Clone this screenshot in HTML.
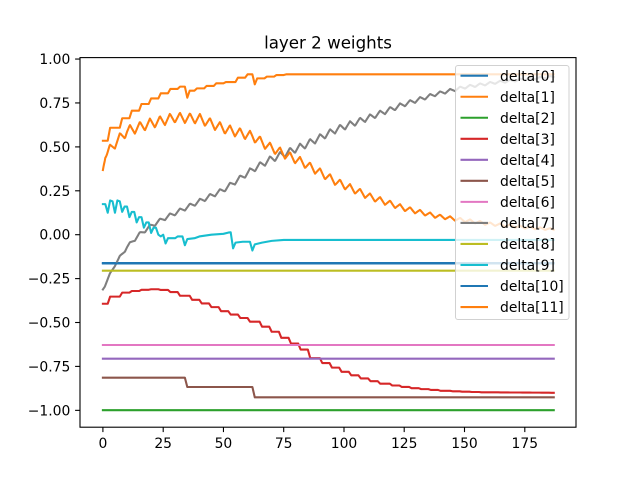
<!DOCTYPE html>
<html><head><meta charset="utf-8">
<style>html,body{margin:0;padding:0;background:#fff;}svg{display:block;}</style>
</head>
<body>
<svg id="c" width="640" height="480" viewBox="0 0 640 480" xmlns="http://www.w3.org/2000/svg" font-family="'DejaVu Sans', 'Liberation Sans', sans-serif">
<rect width="640" height="480" fill="#fff"/>
<g id="lines" fill="none" stroke-width="2.08" stroke-linejoin="round" stroke-linecap="square"></g>
<rect x="80" y="57.6" width="496" height="369.6" fill="none" stroke="#000" stroke-width="1.1"/>
<g stroke="#000" stroke-width="1.1">
<line x1="102.9" y1="427.2" x2="102.9" y2="432.1"/>
<line x1="163.2" y1="427.2" x2="163.2" y2="432.1"/>
<line x1="223.45" y1="427.2" x2="223.45" y2="432.1"/>
<line x1="283.7" y1="427.2" x2="283.7" y2="432.1"/>
<line x1="344" y1="427.2" x2="344" y2="432.1"/>
<line x1="404.2" y1="427.2" x2="404.2" y2="432.1"/>
<line x1="464.5" y1="427.2" x2="464.5" y2="432.1"/>
<line x1="524.8" y1="427.2" x2="524.8" y2="432.1"/>
<line x1="75.1" y1="59.05" x2="80" y2="59.05"/>
<line x1="75.1" y1="102.94" x2="80" y2="102.94"/>
<line x1="75.1" y1="146.9" x2="80" y2="146.9"/>
<line x1="75.1" y1="190.8" x2="80" y2="190.8"/>
<line x1="75.1" y1="234.7" x2="80" y2="234.7"/>
<line x1="75.1" y1="278.6" x2="80" y2="278.6"/>
<line x1="75.1" y1="322.5" x2="80" y2="322.5"/>
<line x1="75.1" y1="366.4" x2="80" y2="366.4"/>
<line x1="75.1" y1="410.35" x2="80" y2="410.35"/>
</g>
<g font-size="13.9" fill="#000" text-anchor="middle">
<text x="102.9" y="448">0</text>
<text x="163.2" y="448">25</text>
<text x="223.45" y="448">50</text>
<text x="283.7" y="448">75</text>
<text x="344" y="448">100</text>
<text x="404.2" y="448">125</text>
<text x="464.5" y="448">150</text>
<text x="524.8" y="448">175</text>
</g>
<g font-size="13.9" fill="#000" text-anchor="end">
<text x="70.3" y="64.1">1.00</text>
<text x="70.3" y="108">0.75</text>
<text x="70.3" y="151.9">0.50</text>
<text x="70.3" y="195.8">0.25</text>
<text x="70.3" y="239.7">0.00</text>
<text x="70.3" y="283.6">−0.25</text>
<text x="70.3" y="327.5">−0.50</text>
<text x="70.3" y="371.4">−0.75</text>
<text x="70.3" y="415.4">−1.00</text>
</g>
<text x="328" y="48.5" font-size="16.67" text-anchor="middle" fill="#000">layer 2 weights</text>
<g id="legend">
<rect x="455.5" y="65.5" width="113.5" height="254" rx="2.5" fill="#fff" fill-opacity="0.8" stroke="#cccccc" stroke-opacity="0.9" stroke-width="1"/>
<g id="leg" font-size="13.9" fill="#000"></g>
</g>
</svg>
<script>
(function(){
const X=v=>102.9+2.411*v, Y=v=>234.7-175.65*v;
function lerp(pts,x){ if(x<=pts[0][0]) return pts[0][1]; for(let i=1;i<pts.length;i++){ if(x<=pts[i][0]){const a=pts[i-1],b=pts[i]; return a[1]+(b[1]-a[1])*(x-a[0])/(b[0]-a[0]);}} return pts[pts.length-1][1]; }
function stepv(pts,x){ let v=pts[0][1]; for(const p of pts){ if(p[0]<=x) v=p[1]; } return v; }
const N=187, P=4.15, O=2.9;
function frac(x){ const t=(x-O)/P+10; return t-Math.floor(t); }
function tri(x){ const p=frac(x); return Math.abs(2*p-1)*2-1; }
function stepStart(x){ const k=Math.floor((x-O)/P); return O+P*k; }
function mk(f,dx){dx=dx||1;let a=[];for(let x=0;x<=N+1e-9;x+=dx)a.push(X(x).toFixed(2)+','+Y(f(x)).toFixed(2));return a.join(' ');}
function mkPts(pts){return pts.map(p=>X(p[0]).toFixed(2)+','+Y(p[1]).toFixed(2)).join(' ');}
const colors=['#1f77b4','#ff7f0e','#2ca02c','#d62728','#9467bd','#8c564b','#e377c2','#7f7f7f','#bcbd22','#17becf','#1f77b4','#ff7f0e'];
const S=[];
S[0]=mk(x=>-0.161);
const o1=[[0,0.535],[3,0.609],[7.5,0.663],[11.7,0.706],[15.5,0.744],[19.6,0.776],[23.7,0.805],[27.8,0.83],[31.9,0.843],[35,0.78],[36,0.82],[39,0.833],[43,0.847],[47,0.862],[51,0.869],[55.4,0.894],[59.5,0.913],[63,0.856],[64,0.89],[68,0.9],[72,0.909],[76,0.913]];
S[1]=mk(x=>stepv(o1,x));
S[2]=mk(x=>-0.999);
const red=[[0,-0.393],[3,-0.36],[6,-0.335],[10,-0.325],[15,-0.315],[20,-0.31],[25,-0.315],[30,-0.33],[35,-0.36],[40,-0.385],[45,-0.41],[50,-0.438],[56,-0.465],[62,-0.495],[70,-0.55],[76,-0.6],[82,-0.645],[87,-0.704],[94,-0.75],[101,-0.79],[108,-0.82],[115,-0.846],[122,-0.863],[129,-0.875],[142,-0.89],[156,-0.897],[187,-0.9]];
S[3]=mk(x=>lerp(red,Math.max(0,stepStart(x)+1)));
S[4]=mk(x=>-0.706);
S[5]=mkPts([[0,-0.814],[34,-0.814],[35,-0.867],[62,-0.867],[63,-0.926],[187,-0.926]]);
S[6]=mk(x=>-0.628);
const gT=[[0,-0.31],[5,-0.17],[10,-0.07],[15,0.0],[20,0.05],[25,0.09],[37,0.17],[50,0.255],[62,0.37],[69,0.425],[83,0.505],[97,0.60],[111,0.67],[125,0.743],[138,0.80],[150,0.84],[162,0.865],[175,0.885],[187,0.9]];
const gA=[[0,0.008],[20,0.012],[50,0.014],[75,0.021],[100,0.019],[140,0.01],[187,0.005]];
S[7]=mk(x=>lerp(gT,x)+lerp(gA,x)*tri(x),0.25);
S[8]=mk(x=>-0.205);
const cy=[[0,0.174],[1,0.174],[2,0.125],[3,0.195],[4,0.19],[5,0.125],[6,0.195],[7,0.19],[8,0.13],[9,0.16],[10,0.16],[11,0.10],[12,0.13],[13,0.13],[14,0.07],[15,0.10],[16,0.10],[17,0.04],[18,0.07],[19,0.07],[20,0.01],[21,0.04],[22,0.04],[23,0.0],[24,-0.01],[25,0.0],[26,-0.05],[27,-0.02],[30,-0.02],[31,-0.01],[33,-0.01],[34,-0.06],[35,-0.025],[38,-0.02],[40,-0.01],[45,0.0],[50,0.005],[52,0.012],[53,0.014],[54,-0.078],[55,-0.045],[58,-0.04],[61,-0.04],[62,-0.09],[63,-0.055],[66,-0.045],[70,-0.035],[75,-0.03],[187,-0.03]];
S[9]=mkPts(cy);
S[10]=mk(x=>-0.164);
const oT=[[0,0.368],[1,0.45],[5,0.52],[10,0.59],[20,0.634],[30,0.667],[40,0.66],[50,0.605],[62,0.56],[69,0.50],[83,0.41],[97,0.30],[111,0.215],[125,0.15],[138,0.107],[146,0.09],[160,0.062],[175,0.042],[187,0.03]];
const oA=[[0,0.0],[2,0.03],[60,0.028],[100,0.022],[140,0.011],[187,0.006]];
S[11]=mk(x=>lerp(oT,x)+lerp(oA,x)*tri(x),0.25);
const NS='http://www.w3.org/2000/svg';
const g=document.getElementById('lines');
for(let i=0;i<12;i++){const pl=document.createElementNS(NS,'polyline');pl.setAttribute('points',S[i]);pl.setAttribute('stroke',colors[i]);g.appendChild(pl);}
const lg=document.getElementById('leg');
for(let i=0;i<12;i++){const cy0=75.7+21.03*i;
 const ln=document.createElementNS(NS,'line');ln.setAttribute('x1','460.5');ln.setAttribute('x2','488');ln.setAttribute('y1',cy0);ln.setAttribute('y2',cy0);ln.setAttribute('stroke',colors[i]);ln.setAttribute('stroke-width','2.08');lg.appendChild(ln);
 const t=document.createElementNS(NS,'text');t.setAttribute('x','500');t.setAttribute('y',(cy0+5.1).toFixed(2));t.textContent='delta['+i+']';lg.appendChild(t);}
})();
</script>
</body></html>
